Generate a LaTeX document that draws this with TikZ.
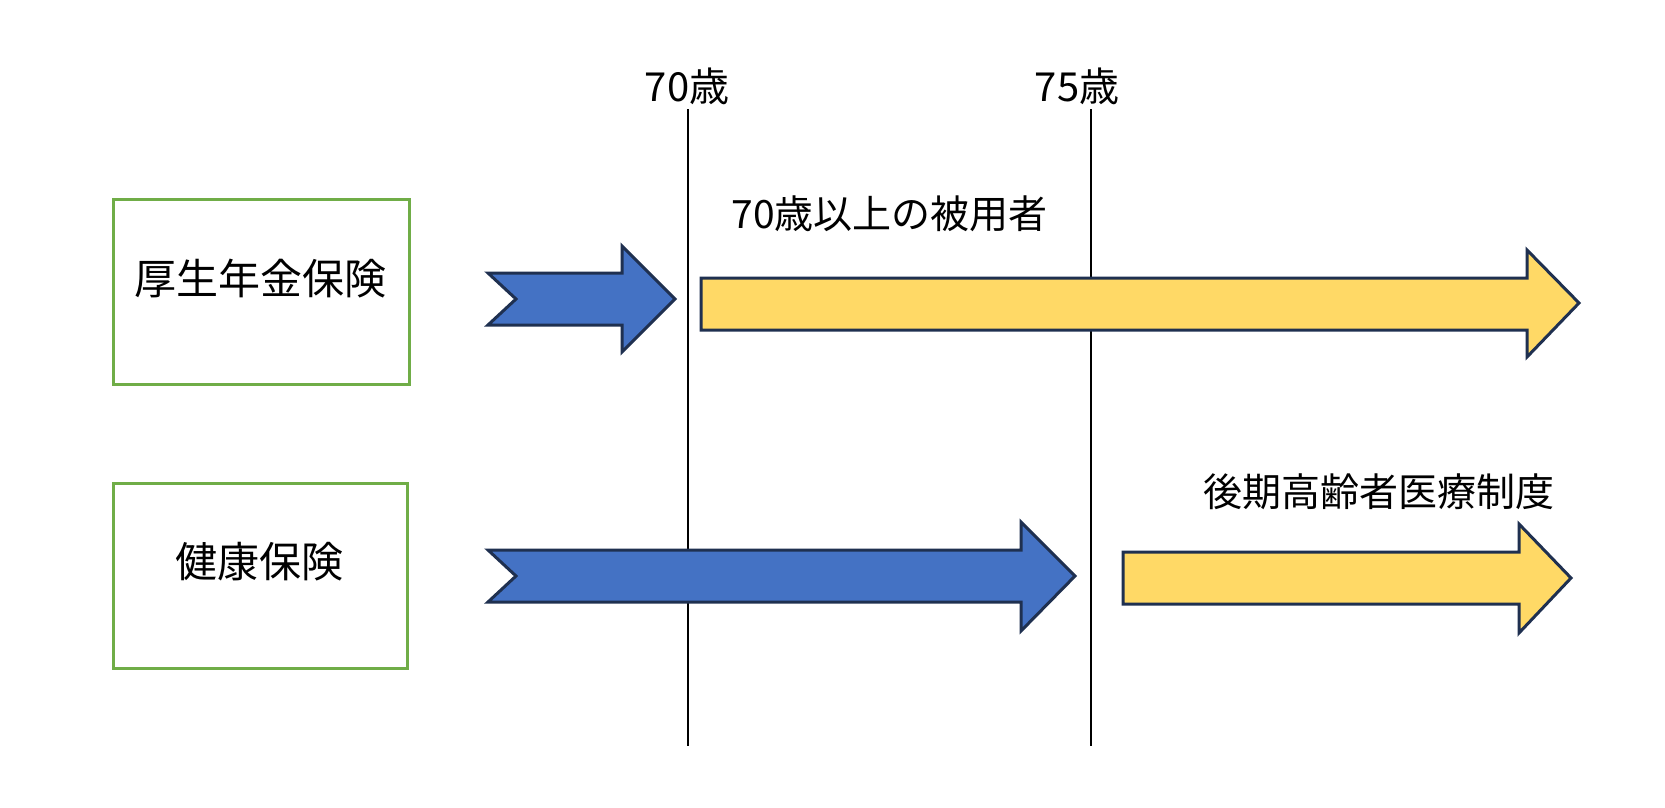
\documentclass[tikz,border=0pt]{standalone}
\usepackage{fontspec}
\setmainfont{Noto Sans CJK JP}
\definecolor{boxgreen}{HTML}{70AD47}
\definecolor{arrblue}{HTML}{4472C4}
\definecolor{arryellow}{HTML}{FFD966}
\definecolor{arrline}{HTML}{1F3050}
\begin{document}
\begin{tikzpicture}[x=1pt,y=-1pt,
  box/.style={draw=boxgreen, line width=3pt, fill=white, inner sep=0pt},
  bigarrow/.style={draw=arrline, line width=3pt, line join=miter},
  vline/.style={draw=black, line width=2.8pt},
  boxlbl/.style={inner sep=0pt, font=\fontsize{42}{50}\selectfont},
  lbl/.style={inner sep=0pt, font=\fontsize{39}{47}\selectfont},
  agelbl/.style={inner sep=0pt, font=\fontsize{40}{48}\selectfont}]
\fill[white] (0,0) rectangle (1665,808);
\useasboundingbox (0,0) rectangle (1665,808);
% age lines
\coordinate (t70) at (688,109);
\coordinate (b70) at (688,746);
\coordinate (t75) at (1091,109);
\coordinate (b75) at (1091,746);
\draw[vline] (t70) -- (b70);
\draw[vline] (t75) -- (b75);
\node[agelbl] (age70) at (687,86) {70歳};
\node[agelbl] (age75) at (1077,86) {75歳};
% boxes
\node[box, minimum width=296pt, minimum height=185pt] (kousei) at (261.5,292) {};
\node[boxlbl] (kouseitxt) at (260.5,279) {厚生年金保険};
\node[box, minimum width=294pt, minimum height=185pt] (kenkou) at (260.5,576) {};
\node[boxlbl] (kenkoutxt) at (259.5,562) {健康保険};
% arrows
\draw[bigarrow, fill=arrblue] (488,273) -- (622,273) -- (622,246) -- (675,299) -- (622,352) -- (622,325) -- (488,325) -- (516,299) -- cycle;
\draw[bigarrow, fill=arryellow] (701,278) -- (1527,278) -- (1527,250) -- (1579,303) -- (1527,357) -- (1527,330) -- (701,330) -- cycle;
\draw[bigarrow, fill=arrblue] (488,550) -- (1021,550) -- (1021,522) -- (1075,576) -- (1021,631) -- (1021,602) -- (488,602) -- (516,576) -- cycle;
\draw[bigarrow, fill=arryellow] (1123,552) -- (1519,552) -- (1519,524) -- (1571,578) -- (1519,633) -- (1519,604) -- (1123,604) -- cycle;
% labels
\node[lbl] (hiyousha) at (889.5,214) {70歳以上の被用者};
\node[lbl] (kouki) at (1379,492) {後期高齢者医療制度};
\end{tikzpicture}
\end{document}
